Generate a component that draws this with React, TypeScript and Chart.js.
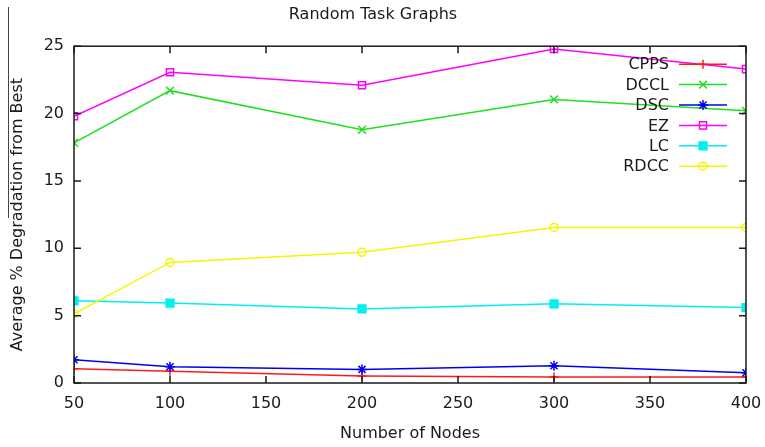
import React, { useEffect, useRef } from "react";
import { Chart, registerables } from "chart.js";
import { drawPoint } from "chart.js/helpers";

Chart.register(...registerables);

// Number of nodes in each random task graph
const nodes = [50, 100, 200, 300, 400];

// Average % degradation from the best schedule, per heuristic
const cpps = [1.06, 0.87, 0.52, 0.45, 0.45];
const dccl = [17.83, 21.7, 18.8, 21.05, 20.2];
const dsc = [1.73, 1.21, 1.01, 1.28, 0.76];
const ez = [19.8, 23.07, 22.1, 24.8, 23.3];
const lc = [6.1, 5.93, 5.5, 5.88, 5.6];
const rdcc = [5.14, 8.95, 9.7, 11.55, 11.55];

const xTicks = [50, 100, 150, 200, 250, 300, 350, 400];
const yTicks = [0, 5, 10, 15, 20, 25];

const FONT = "'DejaVu Sans', sans-serif";
const INK = "#1a1a1a";

type SeriesStyle = {
  label: string;
  values: number[];
  color: string;
  pointStyle: string;
  radius: number;
  filled: boolean;
};

const series: SeriesStyle[] = [
  { label: "CPPS", values: cpps, color: "#ff1a1a", pointStyle: "cross", radius: 4.5, filled: false },
  { label: "DCCL", values: dccl, color: "#1fe01f", pointStyle: "crossRot", radius: 5.5, filled: false },
  { label: "DSC", values: dsc, color: "#0000f0", pointStyle: "star", radius: 5, filled: false },
  { label: "EZ", values: ez, color: "#ff00ff", pointStyle: "rect", radius: 5, filled: false },
  { label: "LC", values: lc, color: "#00f0f0", pointStyle: "rect", radius: 5.5, filled: true },
  { label: "RDCC", values: rdcc, color: "#f5f500", pointStyle: "circle", radius: 4, filled: false },
];

// Closed frame with inward ticks on all four sides (gnuplot look)
const framePlugin = {
  id: "frame",
  afterDatasetsDraw(chart: any) {
    const { ctx, chartArea: a, scales } = chart;
    const tl = 7;
    ctx.save();
    ctx.strokeStyle = INK;
    ctx.lineWidth = 1.5;
    ctx.strokeRect(a.left, a.top, a.right - a.left, a.bottom - a.top);
    ctx.beginPath();
    for (const v of xTicks) {
      const x = scales.x.getPixelForValue(v);
      ctx.moveTo(x, a.bottom);
      ctx.lineTo(x, a.bottom - tl);
      ctx.moveTo(x, a.top);
      ctx.lineTo(x, a.top + tl);
    }
    for (const v of yTicks) {
      const y = scales.y.getPixelForValue(v);
      ctx.moveTo(a.left, y);
      ctx.lineTo(a.left + tl, y);
      ctx.moveTo(a.right, y);
      ctx.lineTo(a.right - tl, y);
    }
    ctx.stroke();
    ctx.restore();
  },
};

// Key drawn inside the plot, top right: right-aligned names, then line sample with marker
const keyPlugin = {
  id: "insideKey",
  afterDatasetsDraw(chart: any) {
    const { ctx, chartArea: a } = chart;
    const textRight = a.right - 77;
    const lineStart = a.right - 67;
    const lineEnd = a.right - 19;
    const rowH = 20.4;
    ctx.save();
    ctx.font = `16px ${FONT}`;
    ctx.textAlign = "right";
    ctx.textBaseline = "middle";
    series.forEach((s, i) => {
      const y = a.top + 18 + i * rowH;
      ctx.fillStyle = INK;
      ctx.fillText(s.label, textRight, y + 1);
      ctx.strokeStyle = s.color;
      ctx.lineWidth = 1.5;
      ctx.beginPath();
      ctx.moveTo(lineStart, y);
      ctx.lineTo(lineEnd, y);
      ctx.stroke();
      ctx.fillStyle = s.filled ? s.color : "rgba(0,0,0,0)";
      ctx.strokeStyle = s.color;
      ctx.lineWidth = 1.5;
      drawPoint(ctx, { pointStyle: s.pointStyle as any, radius: s.radius, rotation: 0, borderWidth: 1.5 }, (lineStart + lineEnd) / 2, y);
    });
    ctx.restore();
  },
};

export default function App() {
  const canvasRef = useRef<HTMLCanvasElement | null>(null);

  useEffect(() => {
    if (!canvasRef.current) return;
    const chart = new Chart(canvasRef.current, {
      type: "line",
      data: {
        datasets: series.map((s, i) => ({
          label: s.label,
          data: nodes.map((n, j) => ({ x: n, y: s.values[j] })),
          borderColor: s.color,
          backgroundColor: s.filled ? s.color : "rgba(0,0,0,0)",
          pointBackgroundColor: s.filled ? s.color : "rgba(0,0,0,0)",
          pointBorderColor: s.color,
          pointStyle: s.pointStyle as any,
          pointRadius: s.radius,
          pointBorderWidth: 1.5,
          borderWidth: 1.5,
          tension: 0,
          fill: false,
          order: -i,
        })),
      },
      options: {
        animation: false,
        responsive: false,
        maintainAspectRatio: false,
        layout: { padding: { left: 0, right: 19, top: 0, bottom: 0 } },
        plugins: {
          legend: { display: false },
          tooltip: { enabled: false },
          title: {
            display: true,
            text: "Random Task Graphs",
            color: INK,
            font: { family: FONT, size: 16, weight: "normal" },
            padding: { top: 5, bottom: 22 },
          },
        },
        scales: {
          x: {
            type: "linear",
            min: 50,
            max: 400,
            afterBuildTicks: (scale: any) => {
              scale.ticks = xTicks.map((v) => ({ value: v }));
            },
            afterFit: (scale: any) => {
              scale.height = 64;
              scale.paddingLeft = 0;
              scale.paddingRight = 0;
            },
            grid: { display: false, drawTicks: false },
            border: { display: false },
            ticks: {
              color: INK,
              font: { family: FONT, size: 16 },
              padding: 11,
              maxRotation: 0,
              autoSkip: false,
            },
            title: {
              display: true,
              text: "Number of Nodes",
              color: INK,
              font: { family: FONT, size: 16 },
              padding: { top: 0, bottom: 4 },
            },
          },
          y: {
            type: "linear",
            min: 0,
            max: 25,
            afterBuildTicks: (scale: any) => {
              scale.ticks = yTicks.map((v) => ({ value: v }));
            },
            afterFit: (scale: any) => {
              scale.width = 74;
              scale.paddingTop = 0;
              scale.paddingBottom = 0;
            },
            grid: { display: false, drawTicks: false },
            border: { display: false },
            ticks: {
              color: INK,
              font: { family: FONT, size: 16 },
              padding: 10,
            },
            title: {
              display: true,
              text: "Average % Degradation from Best",
              color: INK,
              font: { family: FONT, size: 16 },
              padding: { top: 8, bottom: 0 },
            },
          },
        },
      },
      plugins: [framePlugin, keyPlugin],
    });
    return () => chart.destroy();
  }, []);

  return (
    <div style={{ position: "fixed", left: 0, top: 0, width: 765, height: 447, background: "#fff" }}>
      <canvas ref={canvasRef} width={765} height={447} style={{ display: "block" }} />
      <div style={{ position: "absolute", left: 8, top: 7, width: 1, height: 211, background: "#444" }} />
    </div>
  );
}
